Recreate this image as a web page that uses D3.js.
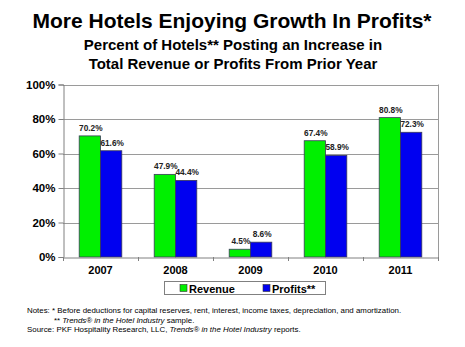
<!DOCTYPE html>
<html>
<head>
<meta charset="utf-8">
<script src="https://cdn.jsdelivr.net/npm/d3@7"></script>
<style>
  html, body { margin: 0; padding: 0; background: #fff; }
  svg { display: block; font-family: "Liberation Sans", Arial, sans-serif; }
</style>
</head>
<body>
<svg id="chart" width="465" height="347"></svg>
<script>
// Survey years and the two series, in percent
const years = ["2007", "2008", "2009", "2010", "2011"];
const revenue = [70.2, 47.9, 4.5, 67.4, 80.8];
const profits = [61.6, 44.4, 8.6, 58.9, 72.3];
const seriesNames = ["Revenue", "Profits**"];
const seriesColors = ["#00f000", "#0000f0"];
const yTicks = [0, 20, 40, 60, 80, 100];

const FONT = "'Liberation Sans', Arial, sans-serif";
const svg = d3.select("#chart");
const margin = { left: 63, right: 438, top: 84.5, bottom: 257 };

const x = d3.scaleBand().domain(years).range([margin.left, margin.right]).paddingInner(0).paddingOuter(0);
const inner = d3.scaleBand().domain(seriesNames).range([0, x.bandwidth()]).paddingInner(0).paddingOuter(0.76);
const y = d3.scaleLinear().domain([0, 100]).range([margin.bottom, margin.top]);

// Titles
svg.append("text").attr("x", 232).attr("y", 28).attr("text-anchor", "middle")
  .attr("font-size", 21).attr("font-weight", "bold").attr("fill", "#000")
  .text("More Hotels Enjoying Growth In Profits*");
svg.append("text").attr("x", 233).attr("y", 50).attr("text-anchor", "middle")
  .attr("font-size", 15).attr("font-weight", "bold").attr("fill", "#000")
  .text("Percent of Hotels** Posting an Increase in");
svg.append("text").attr("x", 233).attr("y", 69).attr("text-anchor", "middle")
  .attr("font-size", 15).attr("font-weight", "bold").attr("fill", "#000")
  .text("Total Revenue or Profits From Prior Year");

// Gridlines
svg.append("g").selectAll("line").data(yTicks.filter(d => d > 0)).join("line")
  .attr("x1", margin.left).attr("x2", margin.right)
  .attr("y1", d => Math.round(y(d)) + 0.5).attr("y2", d => Math.round(y(d)) + 0.5)
  .attr("stroke", "#9a9a9a").attr("stroke-width", 1);
// Right border of plot area
svg.append("line").attr("x1", margin.right + 0.5).attr("x2", margin.right + 0.5)
  .attr("y1", margin.top).attr("y2", margin.bottom).attr("stroke", "#9a9a9a");

// Bars
const groups = svg.append("g").selectAll("g").data(years).join("g")
  .attr("transform", d => `translate(${x(d)},0)`);
const barData = (d, i) => [
  { key: seriesNames[0], v: revenue[i], c: seriesColors[0] },
  { key: seriesNames[1], v: profits[i], c: seriesColors[1] }
];
groups.selectAll("rect").data(barData).join("rect")
  .attr("x", d => inner(d.key))
  .attr("width", inner.bandwidth())
  .attr("y", d => y(d.v))
  .attr("height", d => y(0) - y(d.v))
  .attr("fill", d => d.c)
  .attr("stroke", "#3a3a5a").attr("stroke-width", 0.8);
groups.selectAll("text").data(barData).join("text")
  .attr("x", d => inner(d.key) + inner.bandwidth() / 2 + 1)
  .attr("y", d => y(d.v) - 5)
  .attr("text-anchor", "middle")
  .attr("font-size", 8.3).attr("font-weight", "bold").attr("fill", "#222")
  .text(d => d.v.toFixed(1) + "%");

// Y axis
const yAxis = svg.append("g").attr("transform", `translate(${margin.left + 0.5},0)`)
  .call(d3.axisLeft(y).tickValues(yTicks).tickFormat(d => d + "%").tickSize(5).tickPadding(3));
yAxis.select(".domain").attr("stroke", "#808080");
yAxis.selectAll(".tick line").attr("stroke", "#808080");
yAxis.selectAll(".tick text").attr("font-size", 11.5).attr("font-weight", "bold").attr("fill", "#000")
  .attr("font-family", FONT);

// X axis
const xAxis = svg.append("g").attr("transform", `translate(0,${margin.bottom + 0.5})`)
  .call(d3.axisBottom(x).tickSize(0).tickPadding(9));
xAxis.select(".domain").attr("stroke", "#808080");
xAxis.selectAll(".tick text").attr("font-size", 11).attr("font-weight", "bold").attr("fill", "#000")
  .attr("font-family", FONT);
// Category separator ticks
svg.append("g").selectAll("line").data(years.concat(["end"])).join("line")
  .attr("x1", (d, i) => Math.round(margin.left + i * x.bandwidth()) + 0.5)
  .attr("x2", (d, i) => Math.round(margin.left + i * x.bandwidth()) + 0.5)
  .attr("y1", margin.bottom).attr("y2", margin.bottom + 4)
  .attr("stroke", "#808080");

// Legend
const legend = svg.append("g");
legend.append("rect").attr("x", 164.5).attr("y", 281.5).attr("width", 161).attr("height", 13)
  .attr("fill", "#fff").attr("stroke", "#808080");
const legendX = [180, 263];
seriesNames.forEach((name, i) => {
  legend.append("rect").attr("x", legendX[i]).attr("y", 284.5).attr("width", 7).attr("height", 7)
    .attr("fill", seriesColors[i]).attr("stroke", "#333").attr("stroke-width", 0.6);
  legend.append("text").attr("x", legendX[i] + 9).attr("y", 292.5)
    .attr("font-size", 11).attr("font-weight", "bold").attr("fill", "#000").text(name);
});

// Notes
const notes = svg.append("g").attr("font-size", 7.9).attr("fill", "#000");
const n1 = notes.append("text").attr("x", 27).attr("y", 313);
n1.text("Notes: * Before deductions for capital reserves, rent, interest, income taxes, depreciation, and amortization.");
const n2 = notes.append("text").attr("x", 54).attr("y", 323);
n2.append("tspan").text("** ");
n2.append("tspan").attr("font-style", "italic").text("Trends® in the Hotel Industry");
n2.append("tspan").text(" sample.");
const n3 = notes.append("text").attr("x", 27).attr("y", 332);
n3.append("tspan").text("Source: PKF Hospitality Research, LLC, ");
n3.append("tspan").attr("font-style", "italic").text("Trends® in the Hotel Industry");
n3.append("tspan").text(" reports.");
</script>
</body>
</html>
